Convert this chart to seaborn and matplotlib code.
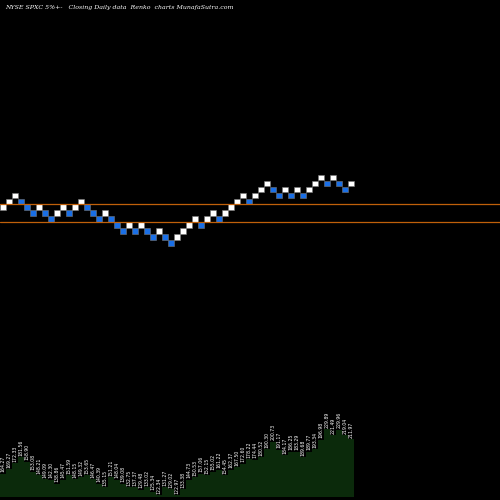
import numpy as np
import matplotlib.pyplot as plt
import seaborn as sns

sns.set_style("dark")

# renko brick levels (in brick units), True = up brick
levels = [6, 7, 8, 7, 6, 5, 6, 5, 4, 5, 6, 5, 6, 7, 6, 5, 4, 5, 4, 3, 2, 3, 2, 3, 2, 1, 2, 1, 0, 1,
          2, 3, 4, 3, 4, 5, 4, 5, 6, 7, 8, 7, 8, 9, 10, 9, 8, 9, 8, 9, 8, 9, 10, 11, 10, 11, 10, 9, 10]
volume = [23, 28, 34, 40, 35, 25, 22, 18, 17, 13, 17, 22, 18, 20, 22, 18, 13, 10, 20, 17, 13, 10, 10, 7, 10,
          5, 2, 10, 8, 2, 8, 17, 20, 23, 22, 25, 27, 22, 27, 30, 33, 38, 37, 40, 48, 55, 47, 42, 45, 45,
          40, 45, 48, 57, 68, 62, 67, 62, 58]
labels = ["164.27", "169.27", "172.33", "181.56", "158.90", "153.08", "148.21", "149.09", "142.30", "138.86",
          "145.47", "151.59", "148.15", "149.32", "153.65", "146.47", "140.39", "135.15", "151.21", "148.04",
          "139.08", "132.75", "137.37", "129.48", "133.02", "125.34", "122.34", "131.27", "129.02", "122.97",
          "133.38", "144.73", "150.53", "157.06", "152.15", "155.02", "161.22", "154.45", "162.37", "167.50",
          "172.60", "178.22", "174.44", "180.52", "190.30", "200.73", "191.17", "184.17", "186.25", "183.29",
          "189.68", "189.77", "193.34", "196.98", "229.89", "221.49", "229.96", "219.04", "211.97"]

fig = plt.figure(figsize=(5, 5), dpi=100, facecolor="black")
ax = fig.add_axes([0, 0, 1, 1])
ax.set_facecolor("black")
x = np.arange(len(levels))
ups = [True] + [levels[i] > levels[i - 1] for i in range(1, len(levels))]
colors = ["white" if u else "#1a6fe6" for u in ups]
ax.bar(x, 0.92, bottom=np.array(levels) - 0.46, width=0.92, color=colors,
       edgecolor="#777777", linewidth=0.4)
ax.axhline(6.55, color="#c0600a", lw=0.9)
ax.axhline(3.55, color="#c0600a", lw=0.9)
ax.set_xlim(-0.5, 82.8)
ax.set_ylim(-42.8, 40.55)
ax.axis("off")

ax2 = ax.twinx()
ax2.fill_between(np.arange(len(volume) + 1) - 0.5, list(volume) + [volume[-1]], step="post",
                 color="#0b2a0b", lw=0)
for i, (v, t) in enumerate(zip(volume, labels)):
    ax2.text(i, v + 1.5, t, rotation=90, color="white", fontsize=3.3, ha="center", va="bottom")
ax2.set_ylim(-3, 500 - 3)
ax2.set_xlim(-0.5, 82.8)
ax2.axis("off")

fig.text(0.01, 0.99, "NYSE SPXC 5%+-   Closing Daily data  Renko  charts MunafaSutra.com",
         color="white", fontsize=4.5, family="DejaVu Serif", style="italic", va="top")
fig.savefig("out.png", dpi=100, facecolor="black")
